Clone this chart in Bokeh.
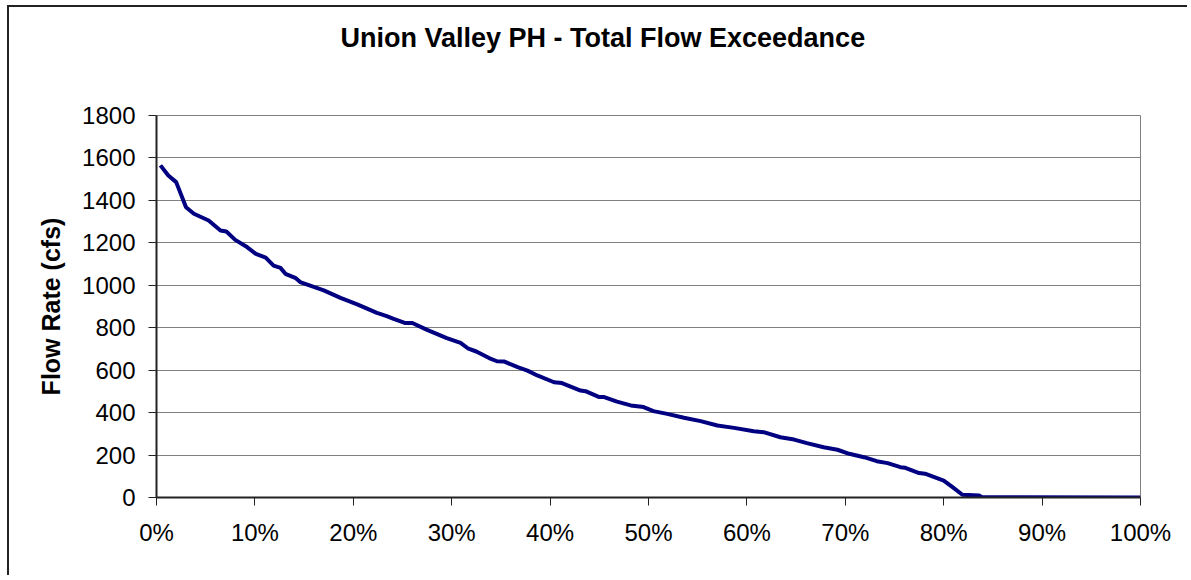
from bokeh.plotting import figure
from bokeh.models import Range1d, FixedTicker, Title, CustomJSTickFormatter
from bokeh.embed import file_html
from bokeh.resources import INLINE

title_text = "Union Valley PH - Total Flow Exceedance"
y_label = "Flow Rate (cfs)"

exceedance = [0.004, 0.012, 0.020, 0.030, 0.038, 0.053, 0.065, 0.071, 0.080, 0.092,
              0.101, 0.111, 0.119, 0.126, 0.131, 0.141, 0.146, 0.170, 0.187, 0.204,
              0.224, 0.234, 0.241, 0.253, 0.260, 0.275, 0.295, 0.309, 0.317, 0.325,
              0.338, 0.346, 0.353, 0.367, 0.377, 0.387, 0.404, 0.412, 0.431, 0.436,
              0.450, 0.455, 0.468, 0.482, 0.495, 0.505, 0.519, 0.536, 0.553, 0.570,
              0.587, 0.607, 0.617, 0.634, 0.648, 0.661, 0.678, 0.692, 0.704, 0.719,
              0.732, 0.743, 0.756, 0.761, 0.775, 0.781, 0.800, 0.809, 0.819, 0.836,
              0.839, 1.000]
flow = [1565, 1517, 1486, 1368, 1337, 1305, 1258, 1253, 1214, 1180,
        1148, 1130, 1093, 1082, 1054, 1035, 1015, 976, 941, 910,
        870, 855, 842, 822, 822, 790, 751, 729, 701, 688,
        657, 642, 641, 614, 598, 575, 543, 539, 504, 501,
        473, 473, 452, 434, 426, 407, 394, 376, 360, 339,
        328, 312, 308, 284, 273, 256, 237, 225, 206, 190,
        171, 162, 143, 140, 115, 112, 80, 49, 13, 9,
        1, 0]

x_ticks = [0, 0.1, 0.2, 0.3, 0.4, 0.5, 0.6, 0.7, 0.8, 0.9, 1.0]
y_ticks = [0, 200, 400, 600, 800, 1000, 1200, 1400, 1600, 1800]

p = figure(width=1180, height=570, output_backend="svg", toolbar_location=None,
           x_range=Range1d(0, 1), y_range=Range1d(0, 1800),
           min_border_left=147, min_border_right=49, min_border_top=108, min_border_bottom=80)
p.styles = {"margin-left": "7px", "margin-top": "5px",
            "border-left": "2px solid #222222", "border-top": "2px solid #222222"}
p.background_fill_color = "white"
p.border_fill_color = "white"
p.outline_line_color = "#808080"
p.outline_line_width = 1

p.line(exceedance, flow, line_color="#000080", line_width=4)

p.xgrid.visible = False
p.ygrid.grid_line_color = "#808080"
p.ygrid.grid_line_width = 1

for ax in (p.xaxis[0], p.yaxis[0]):
    ax.axis_line_color = "#222222"
    ax.axis_line_width = 2
    ax.major_tick_line_color = "#222222"
    ax.major_tick_line_width = 1
    ax.major_tick_in = 0
    ax.major_tick_out = 8
    ax.minor_tick_line_color = None
    ax.major_label_text_font = "Liberation Sans"
    ax.major_label_text_font_size = "24px"
    ax.major_label_text_color = "black"
    ax.major_label_standoff = 13

p.xaxis.ticker = FixedTicker(ticks=x_ticks)
p.yaxis.ticker = FixedTicker(ticks=y_ticks)
p.xaxis.formatter = CustomJSTickFormatter(code="return Math.round(tick*100) + '%';")

p.yaxis.axis_label = y_label
p.yaxis.axis_label_text_font = "Liberation Sans"
p.yaxis.axis_label_text_font_style = "bold"
p.yaxis.axis_label_text_font_size = "25px"
p.yaxis.axis_label_text_color = "black"
p.yaxis.axis_label_standoff = 14

# spacer panel between the frame and the title
p.add_layout(Title(text=" ", text_font_size="2px", standoff=46), "above")
p.add_layout(Title(text=title_text, align="left", offset=184, standoff=26,
                   text_font="Liberation Sans", text_font_style="bold",
                   text_font_size="27px", text_color="black"), "above")

open("out.html", "w").write(file_html(p, INLINE))
